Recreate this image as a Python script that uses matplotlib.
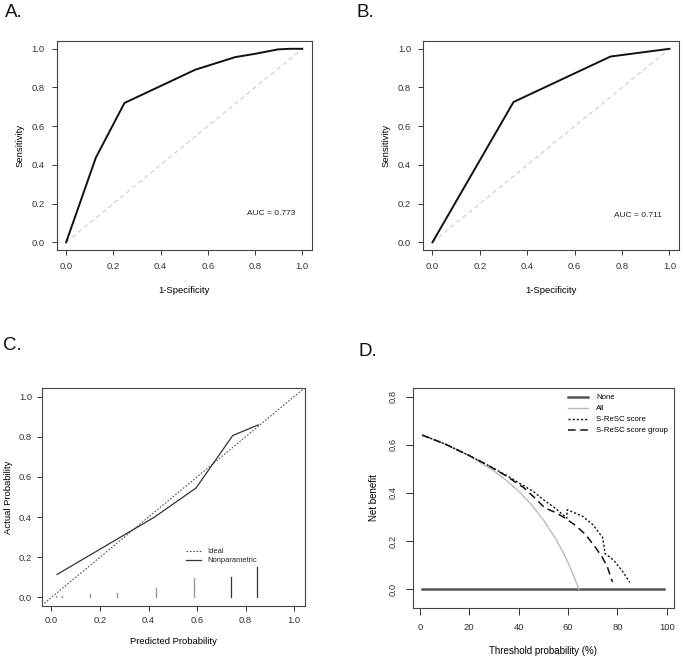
import numpy as np
import matplotlib.pyplot as plt

plt.rcParams['font.family'] = ['Liberation Sans', 'DejaVu Sans']

# Panel A: ROC of S-ReSC score
roc_a_fpr = [0.0, 0.126, 0.247, 0.547, 0.716, 0.80, 0.897, 0.95, 1.0]
roc_a_tpr = [0.0, 0.438, 0.720, 0.892, 0.957, 0.974, 0.997, 1.0, 1.0]
auc_a = "AUC = 0.773"

# Panel B: ROC of S-ReSC score group
roc_b_fpr = [0.0, 0.342, 0.751, 1.0]
roc_b_tpr = [0.0, 0.725, 0.960, 1.0]
auc_b = "AUC = 0.711"

# Panel C: calibration
cal_pred = [0.023, 0.425, 0.596, 0.747, 0.852]
cal_obs = [0.114, 0.400, 0.545, 0.806, 0.859]
spike_x = [0.018, 0.045, 0.093, 0.157, 0.27, 0.429, 0.589, 0.740, 0.849]
spike_h = [0.006, 0.005, 0.004, 0.018, 0.022, 0.046, 0.099, 0.101, 0.149]

# Panel D: decision curve
none_x = [1, 99]
none_y = [0, 0]
all_x = [1, 10, 20, 30, 35, 40, 45, 50, 55, 58, 60, 62, 64.4]
all_y = [0.640, 0.604, 0.555, 0.491, 0.452, 0.407, 0.353, 0.288, 0.209, 0.153, 0.110, 0.063, 0.0]
score_x = [1, 10, 20, 27, 35, 42, 46, 50, 55, 59.5, 59.7, 66, 70, 74, 75, 78.5, 82, 85]
score_y = [0.640, 0.604, 0.555, 0.518, 0.473, 0.430, 0.405, 0.372, 0.335, 0.295, 0.330, 0.302, 0.268, 0.215, 0.148, 0.120, 0.075, 0.028]
group_x = [1, 10, 20, 27, 35, 42, 47, 50.5, 55, 59, 63, 67, 71, 74, 76, 78]
group_y = [0.640, 0.604, 0.555, 0.518, 0.470, 0.422, 0.375, 0.338, 0.318, 0.294, 0.265, 0.228, 0.175, 0.130, 0.090, 0.030]

fig = plt.figure(figsize=(6.83, 6.59), dpi=100)

tick_fs = 6.8
lab_fs = 6.8
spine_c = '#444444'
ticks01 = ['0.0', '0.2', '0.4', '0.6', '0.8', '1.0']


def style(ax, length=3.6, pad=5.0, rot_y=False):
    for s in ax.spines.values():
        s.set_color(spine_c)
        s.set_linewidth(0.8)
    ax.tick_params(direction='out', length=length, width=0.7, colors='#333333',
                   labelsize=tick_fs, pad=pad)
    if rot_y:
        for t in ax.get_yticklabels():
            t.set_rotation(90)
            t.set_va('center')


# A
axA = fig.add_axes([0.083, 0.6206, 0.3734, 0.3171])
axA.plot([0, 1], [0, 1], color='#cccccc', ls=(0, (4, 3)), lw=0.8)
axA.plot(roc_a_fpr, roc_a_tpr, color='#111111', lw=1.4)
axA.text(0.868, 0.147, auc_a, fontsize=6.0, ha='center', va='center', color='#222222')
axA.set_xlim(-0.04, 1.04)
axA.set_ylim(-0.04, 1.04)
axA.set_xticks(np.arange(0, 1.01, 0.2))
axA.set_yticks(np.arange(0, 1.01, 0.2))
axA.set_xticklabels(ticks01)
axA.set_yticklabels(ticks01)
axA.set_xlabel('1-Specificity', fontsize=lab_fs, labelpad=11)
axA.set_ylabel('Sensitivity', fontsize=lab_fs, labelpad=5)
style(axA)

# B
axB = fig.add_axes([0.6193, 0.6206, 0.3748, 0.3171])
axB.plot([0, 1], [0, 1], color='#cccccc', ls=(0, (4, 3)), lw=0.8)
axB.plot(roc_b_fpr, roc_b_tpr, color='#111111', lw=1.4)
axB.text(0.865, 0.14, auc_b, fontsize=6.0, ha='center', va='center', color='#222222')
axB.set_xlim(-0.04, 1.04)
axB.set_ylim(-0.04, 1.04)
axB.set_xticks(np.arange(0, 1.01, 0.2))
axB.set_yticks(np.arange(0, 1.01, 0.2))
axB.set_xticklabels(ticks01)
axB.set_yticklabels(ticks01)
axB.set_xlabel('1-Specificity', fontsize=lab_fs, labelpad=11)
axB.set_ylabel('Sensitivity', fontsize=lab_fs, labelpad=5)
style(axB)

# C
axC = fig.add_axes([0.0611, 0.0804, 0.3855, 0.3303])
axC.plot([-0.04, 1.04], [-0.04, 1.04], color='#555555', ls=(0, (1.5, 1.5)), lw=0.8)
axC.plot(cal_pred, cal_obs, color='#333333', lw=0.9)
for i, (sx, sh) in enumerate(zip(spike_x, spike_h)):
    c = '#999999' if i < 7 else '#333333'
    axC.plot([sx, sx], [0, sh], color=c, lw=1.0 if i < 7 else 0.9)
axC.plot([0.556, 0.615], [0.23, 0.23], color='#555555', ls=(0, (1.5, 1.5)), lw=0.8)
axC.plot([0.556, 0.615], [0.186, 0.186], color='#333333', lw=0.9)
axC.text(0.642, 0.23, 'Ideal', fontsize=5.4, va='center', color='#222222')
axC.text(0.642, 0.186, 'Nonparametric', fontsize=5.4, va='center', color='#222222')
axC.set_xlim(-0.04, 1.045)
axC.set_ylim(-0.043, 1.041)
axC.set_xticks(np.arange(0, 1.01, 0.2))
axC.set_yticks(np.arange(0, 1.01, 0.2))
axC.set_xticklabels(ticks01)
axC.set_yticklabels(ticks01)
axC.set_xlabel('Predicted Probability', fontsize=lab_fs, labelpad=9)
axC.set_ylabel('Actual Probability', fontsize=lab_fs, labelpad=4)
style(axC, pad=3.3)

# D
axD = fig.add_axes([0.6042, 0.0769, 0.3826, 0.3347])
axD.plot(none_x, none_y, color='#555555', lw=1.8, label='None')
axD.plot(all_x, all_y, color='#bbbbbb', lw=1.0, label='All')
axD.plot(score_x, score_y, color='#111111', ls=(0, (1.5, 1.5)), lw=1.0, label='S-ReSC score')
axD.plot(group_x, group_y, color='#111111', ls=(0, (5, 3)), lw=1.1, label='S-ReSC score group')
axD.legend(loc='upper right', frameon=False, fontsize=5.6, handlelength=2.6,
           labelspacing=0.45, handletextpad=1.0, borderaxespad=0.4,
           bbox_to_anchor=(1.0, 1.0))
axD.set_xlim(-2.92, 102.92)
axD.set_ylim(-0.08, 0.837)
axD.set_xticks(np.arange(0, 101, 20))
axD.set_yticks(np.arange(0, 0.81, 0.2))
axD.set_yticklabels(['0.0', '0.2', '0.4', '0.6', '0.8'])
axD.set_xlabel('Threshold probability (%)', fontsize=7.0, labelpad=10)
axD.set_ylabel('Net benefit', fontsize=7.0, labelpad=7)
style(axD, length=4.8, pad=6.0, rot_y=True)

fig.text(0.008, 0.981, 'A.', fontsize=13.5, va='center', ha='left', color='#111111')
fig.text(0.522, 0.981, 'B.', fontsize=13.5, va='center', ha='left', color='#111111')
fig.text(0.004, 0.476, 'C.', fontsize=13.5, va='center', ha='left', color='#111111')
fig.text(0.525, 0.466, 'D.', fontsize=13.5, va='center', ha='left', color='#111111')

fig.savefig('out.png', dpi=100)
